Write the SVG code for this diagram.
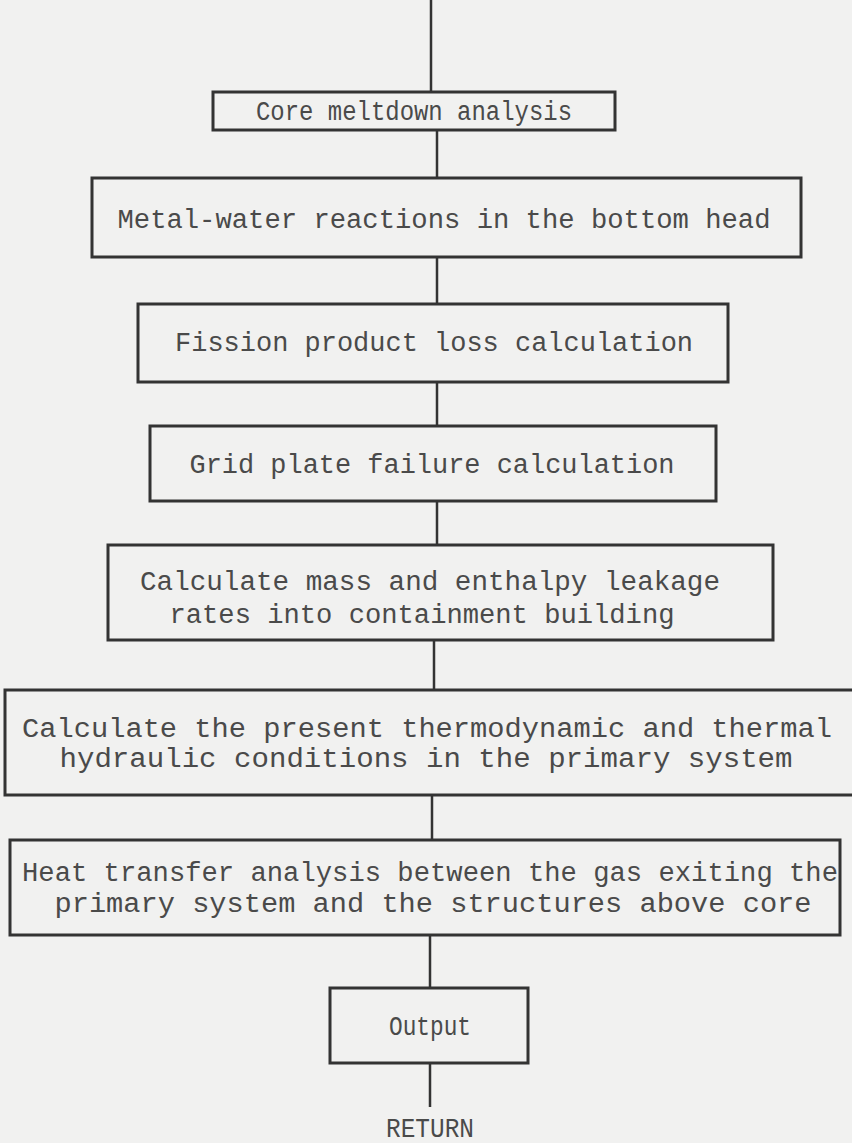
<svg xmlns="http://www.w3.org/2000/svg" width="852" height="1143" viewBox="0 0 852 1143">
  <style>
    .box { fill: none; stroke: #333; stroke-width: 3; }
    .wire { stroke: #333; stroke-width: 2.5; fill: none; }
    .lbl { font-family: "Liberation Mono", "DejaVu Sans Mono", monospace; font-size: 27px; fill: #4a4a4a; text-anchor: middle; }
  </style>
  <rect width="852" height="1143" fill="#f1f1f0"/>

  <g id="connectors">
    <line class="wire" x1="431" y1="0" x2="431" y2="92"/>
    <line class="wire" x1="437" y1="130" x2="437" y2="178"/>
    <line class="wire" x1="437" y1="257" x2="437" y2="304"/>
    <line class="wire" x1="437" y1="382" x2="437" y2="426"/>
    <line class="wire" x1="437" y1="501" x2="437" y2="545"/>
    <line class="wire" x1="434" y1="640" x2="434" y2="690"/>
    <line class="wire" x1="432" y1="795" x2="432" y2="840"/>
    <line class="wire" x1="430" y1="935" x2="430" y2="988"/>
    <line class="wire" x1="430" y1="1063" x2="430" y2="1107"/>
  </g>

  <g id="core-meltdown">
    <rect class="box" x="213" y="92" width="402" height="38"/>
    <text class="lbl" x="414" y="120" font-size="26" textLength="316" lengthAdjust="spacingAndGlyphs">Core meltdown analysis</text>
  </g>

  <g id="metal-water">
    <rect class="box" x="92" y="178" width="709" height="79"/>
    <text class="lbl" x="444" y="228" textLength="653" lengthAdjust="spacingAndGlyphs">Metal-water reactions in the bottom head</text>
  </g>

  <g id="fission-product">
    <rect class="box" x="138" y="304" width="590" height="78"/>
    <text class="lbl" x="434" y="351" textLength="518" lengthAdjust="spacingAndGlyphs">Fission product loss calculation</text>
  </g>

  <g id="grid-plate">
    <rect class="box" x="150" y="426" width="566" height="75"/>
    <text class="lbl" x="432" y="473" textLength="485" lengthAdjust="spacingAndGlyphs">Grid plate failure calculation</text>
  </g>

  <g id="leakage-rates">
    <rect class="box" x="108" y="545" width="665" height="95"/>
    <text class="lbl" x="430" y="590" textLength="580" lengthAdjust="spacingAndGlyphs">Calculate mass and enthalpy leakage</text>
    <text class="lbl" x="422" y="623" textLength="505" lengthAdjust="spacingAndGlyphs">rates into containment building</text>
  </g>

  <g id="primary-conditions">
    <rect class="box" x="5" y="690" width="851" height="105"/>
    <text class="lbl" x="427" y="737" textLength="810" lengthAdjust="spacingAndGlyphs">Calculate the present thermodynamic and thermal</text>
    <text class="lbl" x="426" y="767" textLength="733" lengthAdjust="spacingAndGlyphs">hydraulic conditions in the primary system</text>
  </g>

  <g id="heat-transfer">
    <rect class="box" x="10" y="840" width="830" height="95"/>
    <text class="lbl" x="430" y="881" textLength="816" lengthAdjust="spacingAndGlyphs">Heat transfer analysis between the gas exiting the</text>
    <text class="lbl" x="433" y="912" textLength="757" lengthAdjust="spacingAndGlyphs">primary system and the structures above core</text>
  </g>

  <g id="output">
    <rect class="box" x="330" y="988" width="198" height="75"/>
    <text class="lbl" x="430" y="1035" font-size="25" textLength="82" lengthAdjust="spacingAndGlyphs">Output</text>
  </g>

  <g id="return">
    <text class="lbl" x="430" y="1137" font-size="22" textLength="88" lengthAdjust="spacingAndGlyphs">RETURN</text>
  </g>
</svg>
